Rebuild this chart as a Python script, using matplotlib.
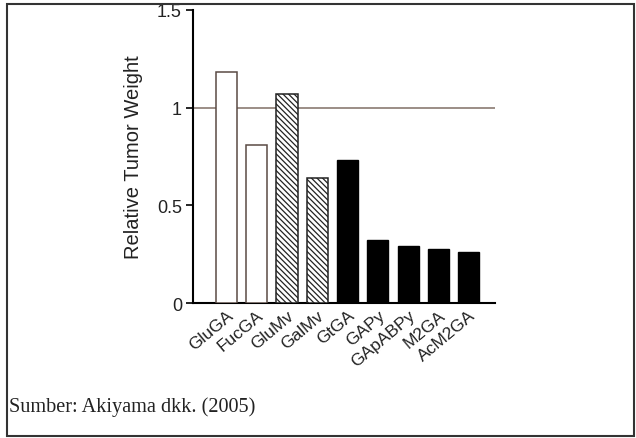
import matplotlib.pyplot as plt
from matplotlib.patches import Rectangle

compounds = ['GluGA', 'FucGA', 'GluMv', 'GalMv', 'GtGA', 'GAPy', 'GApABPy', 'M2GA', 'AcM2GA']
weights = [1.18, 0.81, 1.07, 0.64, 0.73, 0.32, 0.29, 0.275, 0.26]
styles = ['open', 'open', 'hatch', 'hatch', 'solid', 'solid', 'solid', 'solid', 'solid']
yticks = [0, 0.5, 1, 1.5]
yticklabels = ['0', '0.5', '1', '1.5']

plt.rcParams['font.family'] = ['Liberation Sans', 'DejaVu Sans']
plt.rcParams['hatch.linewidth'] = 0.9

fig = plt.figure(figsize=(6.36, 4.39), dpi=100)
ax = fig.add_axes([0.3035, 0.3075, 0.4745, 0.6675])

for i, (v, s) in enumerate(zip(weights, styles)):
    if s == 'open':
        ax.bar(i, v, width=0.7, facecolor='white', edgecolor='#5a4a44', linewidth=1.1, zorder=3)
    elif s == 'hatch':
        ax.bar(i, v, width=0.7, facecolor='white', edgecolor='#222222', hatch='\\' * 6,
               linewidth=1.1, zorder=3)
    else:
        ax.bar(i, v, width=0.7, facecolor='black', edgecolor='black', zorder=3)

ax.axhline(1, color='#8a7a72', linewidth=1.2, zorder=2)

ax.set_xlim(-1.1, 8.86)
ax.set_ylim(0, 1.5)
ax.set_yticks(yticks)
ax.set_yticklabels(yticklabels, fontsize=13, color='#222222')
ax.set_xticks(range(len(compounds)))
ax.set_xticklabels(compounds, rotation=40, ha='right', rotation_mode='anchor',
                   fontsize=12.5, color='#222222')
ax.tick_params(axis='x', length=0, pad=3)
ax.tick_params(axis='y', length=5, width=1.2, pad=3)
ax.set_ylabel('Relative Tumor Weight', fontsize=14.5, color='#222222')
ax.yaxis.set_label_coords(-0.166, 0.5)

for side in ['top', 'right']:
    ax.spines[side].set_visible(False)
ax.spines['left'].set_linewidth(1.5)
ax.spines['bottom'].set_linewidth(1.5)

fig.patches.append(Rectangle((0.011, 0.005), 0.986, 0.984, transform=fig.transFigure,
                             fill=False, edgecolor='#333333', linewidth=1.5))
fig.text(0.014, 0.073, 'Sumber: Akiyama dkk. (2005)', fontsize=14.6,
         family=['Liberation Serif', 'DejaVu Serif'], va='center', color='#222222')

fig.savefig('out.png', dpi=100)
